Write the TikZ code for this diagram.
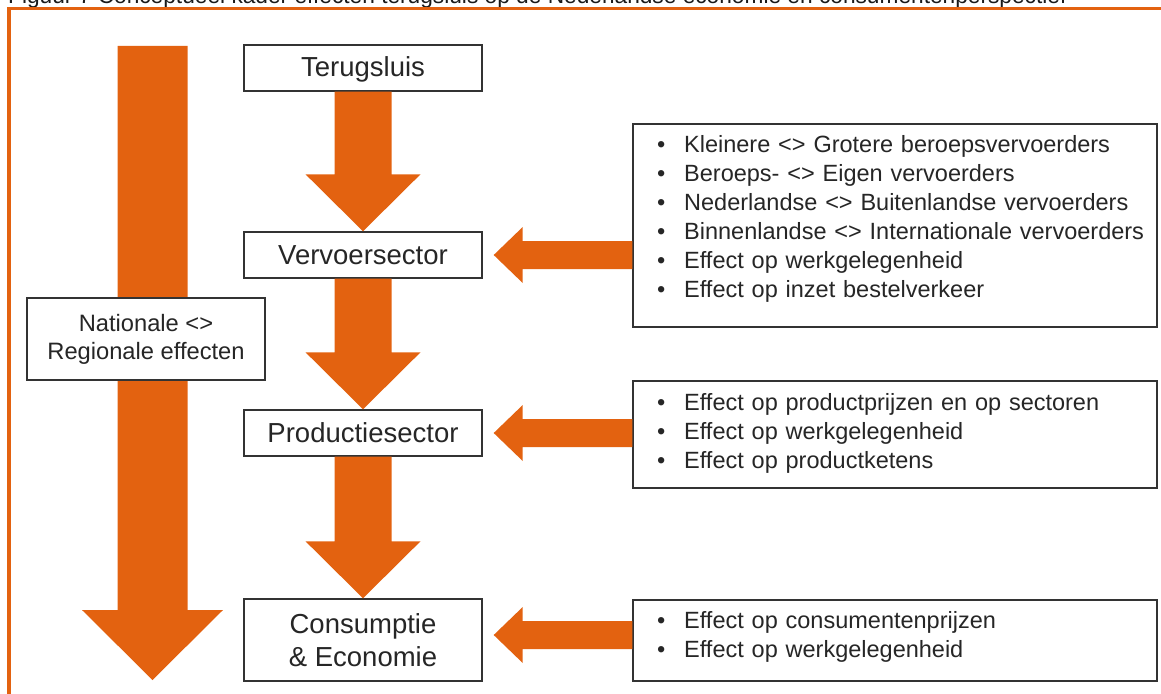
\documentclass[tikz,border=0pt]{standalone}
\usepackage{fontspec}
\setmainfont{Liberation Sans}
\usetikzlibrary{calc}
\definecolor{orng}{HTML}{E36210}
\definecolor{edge}{HTML}{333333}
\definecolor{txt}{HTML}{262626}
\tikzset{
  mainbox/.style={draw=edge, line width=1.4pt, fill=white, minimum width=238pt, inner sep=0pt,
    text=txt, font=\fontsize{27.5}{33}\selectfont, align=center},
  onebox/.style={mainbox, minimum height=46pt, text height=20pt, text depth=2pt},
  sidebox/.style={draw=edge, line width=1.4pt, fill=white, minimum width=238pt, minimum height=82pt,
    inner sep=0pt, text=txt, font=\fontsize{23.7}{28}\selectfont, align=center},
  listbox/.style={draw=edge, line width=1.4pt, fill=white, minimum width=524pt, inner sep=0pt},
  listtext/.style={anchor=base west, inner sep=0pt, text width=495pt, align=left, text=txt,
    font=\fontsize{23.5}{29}\selectfont},
  blockfill/.style={fill=orng, draw=none},
  framestyle/.style={draw=orng, line width=3.5pt},
  captionstyle/.style={anchor=base west, inner sep=0pt, text=black!90, font=\fontsize{22.7}{27}\selectfont},
}
\newcommand\bul{\makebox[27pt][l]{\textbullet}}
\newcommand\downblock[2]{%
  \fill[blockfill] ($(#1.south)+(-28.5,0)$) -- ($(#2.north)+(-28.5,-57)$) -- ($(#2.north)+(-57.5,-57)$)
    -- (#2.north) -- ($(#2.north)+(57.5,-57)$) -- ($(#2.north)+(28.5,-57)$) -- ($(#1.south)+(28.5,0)$) -- cycle;}
% #1 source box, #2 target node, #3 vertical offset
\newcommand\leftblock[3]{%
  \fill[blockfill] ($(#1.west |- #2.east)+(0,#3-14)$) -- ($(#2.east)+(40,#3-14)$) -- ($(#2.east)+(40,#3-28)$)
    -- ($(#2.east)+(11,#3)$) -- ($(#2.east)+(40,#3+28)$) -- ($(#2.east)+(40,#3+14)$) -- ($(#1.west |- #2.east)+(0,#3+14)$) -- cycle;}
\begin{document}
\begin{tikzpicture}[x=1pt,y=-1pt]
\useasboundingbox (0,0) rectangle (1161,693);
\clip (0,0) rectangle (1161,693);
% caption (cut off at top)
\node[captionstyle] (caption) at (8,4) {Figuur 7 Conceptueel kader effecten terugsluis op de Nederlandse economie en consumentenperspectief};
% frame
\draw[framestyle] (9,8.5) rectangle (1180,720);
% big left arrow
\coordinate (bigtop) at (152.5,46);
\coordinate (bigtip) at (152.5,680);
\fill[blockfill] ($(bigtop)+(-35,0)$) -- ($(bigtip)+(-35,-70)$) -- ($(bigtip)+(-70.5,-70)$) -- (bigtip)
  -- ($(bigtip)+(70.5,-70)$) -- ($(bigtip)+(35,-70)$) -- ($(bigtop)+(35,0)$) -- cycle;
% main boxes
\node[onebox] (term) at (363,68) {Terugsluis};
\node[onebox] (verv) at (363,255) {Vervoersector};
\node[onebox] (prod) at (363,433) {Productiesector};
\node[mainbox, minimum height=82pt] (cons) at (363,640) {Consumptie\\\& Economie};
\node[sidebox] (nat) at (146,339) {Nationale <>\\Regionale effecten};
% list boxes
\node[listbox, minimum height=203pt] (b1) at (895,225.5) {};
\node[listbox, minimum height=107pt] (b2) at (895,434.5) {};
\node[listbox, minimum height=81pt] (b3) at (895,640.5) {};
\node[listtext] (t1) at (657,152) {\bul Kleinere <> Grotere beroepsvervoerders\\
  \bul Beroeps- <> Eigen vervoerders\\
  \bul Nederlandse <> Buitenlandse vervoerders\\
  \bul Binnenlandse <> Internationale vervoerders\\
  \bul Effect op werkgelegenheid\\
  \bul Effect op inzet bestelverkeer};
\node[listtext] (t2) at (657,410) {\bul Effect op productprijzen en op sectoren\\
  \bul Effect op werkgelegenheid\\
  \bul Effect op productketens};
\node[listtext] (t3) at (657,628) {\bul Effect op consumentenprijzen\\
  \bul Effect op werkgelegenheid};
% block arrows
\downblock{term}{verv}
\downblock{verv}{prod}
\downblock{prod}{cons}
\leftblock{b1}{verv}{0}
\leftblock{b2}{prod}{0}
\leftblock{b3}{cons}{-5}
\end{tikzpicture}
\end{document}
